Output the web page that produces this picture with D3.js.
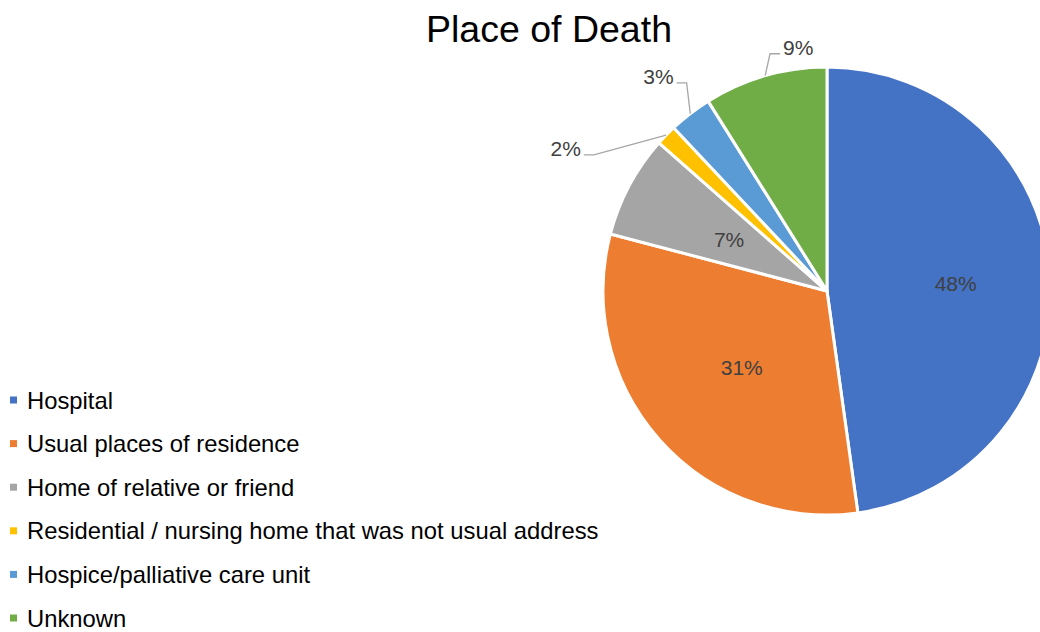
<!DOCTYPE html>
<html><head><meta charset="utf-8">
<script src="https://cdn.jsdelivr.net/npm/d3@7"></script>
<style>body{margin:0;background:#fff}svg{display:block;font-family:"Liberation Sans",Arial,sans-serif}</style>
</head><body><svg id="c" width="1040" height="632"></svg>
<script>
const categories = ["Hospital","Usual places of residence","Home of relative or friend","Residential / nursing home that was not usual address","Hospice/palliative care unit","Unknown"];
const values = [47.8, 31.3, 7.4, 1.5, 3.1, 8.9];
const colors = ["#4472C4","#ED7D31","#A5A5A5","#FFC000","#5B9BD5","#70AD47"];
const title = "Place of Death";

// layout (not data): inside label radii, and outside label elbows (polar: deg from top, radius)
const insideLabelR = {0: 129, 1: 114, 2: 111};
const outsideLabel = {
  3: {elbowDeg: 300.3, elbowR: 270, dir: -1},
  4: {elbowDeg: 326, elbowR: 251, dir: -1},
  5: {elbowDeg: 346.5, elbowR: 244, dir: 1}
};

const svg = d3.select("#c");
const cx = 827, cy = 291, R = 224;
const total = d3.sum(values);
const pie = d3.pie().sort(null).value(d => d)(values);
const arc = d3.arc().innerRadius(0).outerRadius(R);
const g = svg.append("g").attr("transform", `translate(${cx},${cy})`);
g.selectAll("path").data(pie).join("path")
  .attr("d", arc).attr("fill", (d,i) => colors[i])
  .attr("stroke", "#fff").attr("stroke-width", 3).attr("stroke-linejoin","round");

const pct = v => Math.round(v / total * 100) + "%";
const polar = (deg, r) => [r * Math.sin(deg * Math.PI / 180), -r * Math.cos(deg * Math.PI / 180)];

pie.forEach((d, i) => {
  const mid = (d.startAngle + d.endAngle) / 2;
  if (outsideLabel[i]) {
    const o = outsideLabel[i];
    const p0 = [R * Math.sin(mid), -R * Math.cos(mid)];
    const p1 = polar(o.elbowDeg, o.elbowR);
    const p2 = [p1[0] + o.dir * 10, p1[1]];
    g.append("polyline").attr("points", [p0, p1, p2].map(p => p.join(",")).join(" "))
      .attr("fill", "none").attr("stroke", "#a6a6a6").attr("stroke-width", 1.3);
    g.append("text").attr("x", p2[0] + o.dir * 3).attr("y", p2[1] - 6)
      .attr("text-anchor", o.dir < 0 ? "end" : "start").attr("dominant-baseline", "central")
      .attr("font-size", 21).attr("fill", "#404040").text(pct(values[i]));
  } else {
    const lr = insideLabelR[i];
    g.append("text").attr("x", lr * Math.sin(mid)).attr("y", -lr * Math.cos(mid) + 1)
      .attr("text-anchor", "middle").attr("dominant-baseline", "central")
      .attr("font-size", 21).attr("fill", "#404040").text(pct(values[i]));
  }
});

svg.append("text").attr("x", 549).attr("y", 42).attr("text-anchor", "middle")
  .attr("font-size", 37.5).attr("fill", "#000").text(title);

const ly = d3.scalePoint().domain(categories).range([400, 618]);
const lg = svg.append("g");
categories.forEach((c, i) => {
  lg.append("rect").attr("x", 10).attr("y", ly(c) - 3.5).attr("width", 7).attr("height", 7).attr("fill", colors[i]);
  lg.append("text").attr("x", 27).attr("y", ly(c)).attr("dominant-baseline", "central")
    .attr("font-size", 23.8).attr("fill", "#000").text(c);
});
</script></body></html>
